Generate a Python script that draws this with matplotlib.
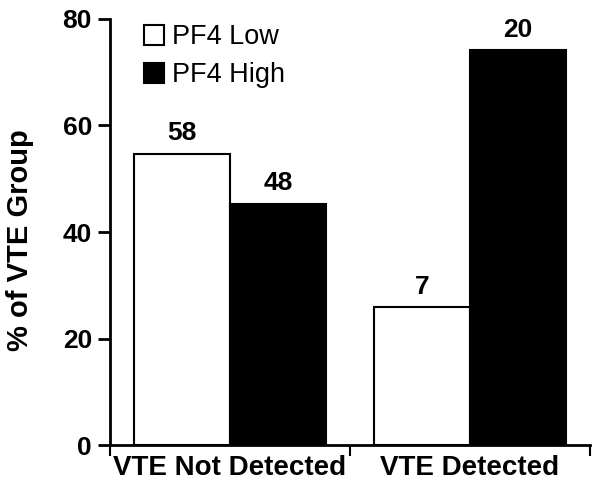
import matplotlib.pyplot as plt
import numpy as np

plt.rcParams['font.family'] = ['Liberation Sans', 'DejaVu Sans']

categories = ["VTE Not Detected", "VTE Detected"]
series = ["PF4 Low", "PF4 High"]
pct_low = [54.7, 25.9]
pct_high = [45.3, 74.1]
n_low = [58, 7]
n_high = [48, 20]

fig = plt.figure(figsize=(6.02, 4.94), dpi=100)
ax = fig.add_axes([110 / 602, 49 / 494, 480 / 602, 426 / 494])

x = np.arange(len(categories))
w = 0.4
b1 = ax.bar(x - w / 2, pct_low, w, color="white", edgecolor="black", linewidth=1.5, label=series[0])
b2 = ax.bar(x + w / 2, pct_high, w, color="black", edgecolor="black", linewidth=1.5, label=series[1])

for bars, counts in ((b1, n_low), (b2, n_high)):
    for rect, n in zip(bars, counts):
        ax.text(rect.get_x() + rect.get_width() / 2, rect.get_height() + 1.6, str(n),
                ha="center", va="bottom", fontsize=19, fontweight="bold")

ax.set_xlim(-0.5, 1.5)
ax.set_ylim(0, 80)
ax.set_yticks([0, 20, 40, 60, 80])
ax.set_ylabel("% of VTE Group", fontsize=21, fontweight="bold")
ax.yaxis.set_label_coords(-0.158, 0.48)

# category labels centred, tick marks at boundaries
ax.set_xticks([-0.5, 0.5, 1.5])
ax.set_xticklabels([])
ax.set_xticks(x, minor=True)
ax.set_xticklabels(categories, minor=True, fontsize=20, fontweight="bold")
ax.tick_params(axis="x", which="minor", length=0, pad=7)
ax.tick_params(axis="x", which="major", length=8, width=1.5, direction="out")
ax.tick_params(axis="y", length=9, width=2, labelsize=19, pad=4)
for lab in ax.get_yticklabels():
    lab.set_fontweight("bold")

for s in ("top", "right"):
    ax.spines[s].set_visible(False)
for s in ("left", "bottom"):
    ax.spines[s].set_linewidth(2)

ax.legend(loc="upper left", bbox_to_anchor=(0.02, 1.045), frameon=False, fontsize=19.5,
          handlelength=0.75, handleheight=0.75, handletextpad=0.3, labelspacing=0.45)

fig.savefig("out.png", dpi=100)
